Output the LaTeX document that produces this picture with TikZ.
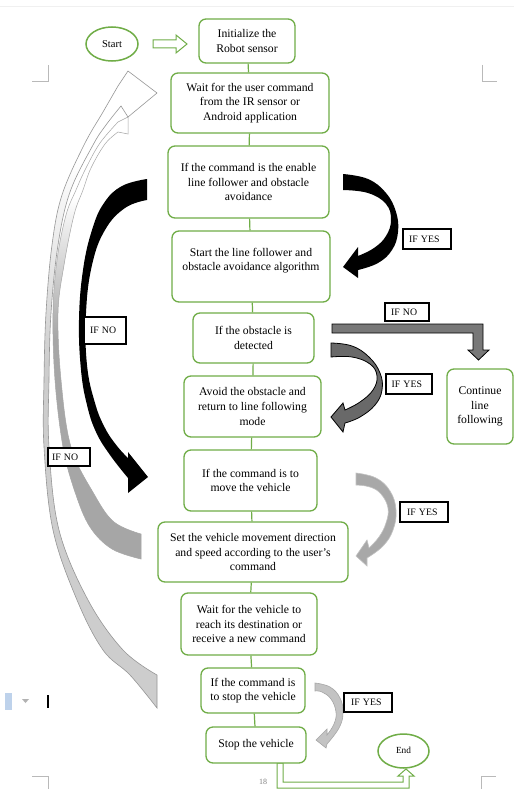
\documentclass[tikz,border=0pt]{standalone}
\usepackage{fontspec}
\setmainfont{Liberation Serif}
\usetikzlibrary{shapes.geometric}
\definecolor{wgreen}{RGB}{112,173,71}
\definecolor{shA}{RGB}{205,205,205}
\definecolor{shB}{RGB}{166,166,166}
\definecolor{edgeA}{RGB}{150,150,150}
\definecolor{dgray}{RGB}{105,105,105}
\definecolor{elbow}{RGB}{120,120,120}
\definecolor{lgrayA}{RGB}{168,168,168}
\definecolor{lgrayB}{RGB}{195,195,195}
\definecolor{iconblue}{RGB}{190,210,235}
\pgfdeclareverticalshading{fadeA}{100bp}{color(0bp)=(shA); color(25bp)=(shA); color(52bp)=(shA); color(68bp)=(white); color(100bp)=(white)}
\pgfdeclareverticalshading{fadeB}{100bp}{color(0bp)=(shB); color(25bp)=(shB); color(50bp)=(shB); color(66bp)=(white); color(100bp)=(white)}
\begin{document}
\begin{tikzpicture}[x=1pt,y=-1pt,
  box/.style={draw=wgreen, line width=1.3pt, rounded corners=7pt, fill=white, align=center, inner sep=0pt, font=\fontsize{11.7}{14.6}\selectfont},
  oval/.style={ellipse, draw=wgreen, line width=1.5pt, fill=white, inner sep=0pt},
  tag/.style={draw=black, line width=1.3pt, fill=white, inner ysep=0pt, inner xsep=6pt, align=left, font=\fontsize{9.8}{11}\selectfont},
  link/.style={draw=wgreen, line width=1.2pt},
  hollow/.style={draw=wgreen, fill=white, line width=1pt},
  crop/.style={draw=gray!55, line width=0.6pt}]
\useasboundingbox (0,0) rectangle (514,789);
\fill[white] (0,0) rectangle (514,789);
\draw[gray!12, line width=0.8pt] (0,6) -- (514,6);
% crop marks
\draw[crop] (32,81) -- (48,81) -- (48,65);
\draw[crop] (482,65) -- (482,81) -- (497,81);
\draw[crop] (32,776) -- (48,776) -- (48,789);
\draw[crop] (481,789) -- (481,776) -- (496,776);
\node[font=\fontsize{8}{9}\selectfont, text=gray] (pg) at (263,782) {18};
% editor artefacts
\fill[iconblue] (5,693) rectangle (12,710);
\fill[gray!60] (22,699) -- (29,699) -- (25.5,703) -- cycle;
\fill[black] (47.3,695) rectangle (48.8,708);

% big gray arrow B (from Set box back to Wait)
\path[shading=fadeB, draw=shB, line width=0.5pt]
  plot[smooth, tension=0.6] coordinates {(141,559) (112,549) (90,527) (75,492) (63,447) (55,380) (53,313) (57,260) (66,215) (76,190) (86,168) (100,143) (118,122)}
  -- (128,117) -- (128,134) -- (118,132)
  -- plot[smooth, tension=0.6] coordinates {(118,132) (105,144) (91,168) (83,190) (74,215) (64,265) (58,313) (61,380) (71,447) (94,494) (114,522) (141,534)}
  -- cycle;
% big light gray arrow A (from stop-command box back to Wait)
\path[shading=fadeA, draw=edgeA, line width=0.6pt]
  plot[smooth, tension=0.6] coordinates {(157,708) (130,675) (103,650) (77,600) (53,530) (44,447) (44,380) (46,313) (52,245) (62,195) (84,145) (103,112) (118,86)}
  -- (128,71) -- (157,93) -- (128,117) -- (121,106)
  -- plot[smooth, tension=0.6] coordinates {(121,106) (106,125) (93,145) (70,192) (58,245) (51,313) (49,380) (49,447) (59,530) (88,600) (123,650) (157,675)}
  -- cycle;

% black arrow left (IF NO)
\fill[black]
  plot[smooth, tension=0.7] coordinates {(147,179) (122,186) (104,203) (92,230) (83,270) (79,320) (81,370) (87,405) (96,432) (110,455) (128,478)}
  -- (128,493) -- (148,477) -- (128,452) -- (128,458)
  -- plot[smooth, tension=0.7] coordinates {(128,458) (117,446) (105,428) (95,403) (87,365) (86,313) (92,265) (105,230) (125,208) (147,200)}
  -- cycle;
% black arrow right (IF YES)
\fill[black]
  plot[smooth, tension=0.7] coordinates {(343,174) (368,179) (386,193) (396,212) (398,232) (392,250) (378,263) (358,270)}
  -- (358,278) -- (343,267) -- (358,247) -- (358,256)
  -- plot[smooth, tension=0.7] coordinates {(358,256) (374,248) (386,236) (391,220) (386,204) (368,193) (343,190)}
  -- cycle;
% dark gray arrow (obstacle -> avoid)
\filldraw[fill=dgray, draw=black, line width=0.8pt]
  plot[smooth, tension=0.7] coordinates {(331,343) (352,346) (369,357) (380,373) (382,390) (375,405) (360,417) (345,423)}
  -- (343,432) -- (331,417) -- (343,403) -- (345,410)
  -- plot[smooth, tension=0.7] coordinates {(345,410) (360,402) (373,390) (377,376) (370,364) (352,357) (331,357)}
  -- cycle;
% elbow arrow (IF NO -> continue)
\filldraw[fill=elbow, draw=black, line width=0.8pt] (332,324) -- (483,324) -- (483,350) -- (489,350) -- (478.5,360) -- (468,350) -- (473,350) -- (473,333) -- (332,333) -- cycle;
% light gray arrow (move -> set)
\filldraw[fill=lgrayA, draw=lgrayA!70!white, line width=0.6pt]
  plot[smooth, tension=0.7] coordinates {(356,473) (376,478) (390,491) (396,510) (393,530) (383,546) (367,558)}
  -- (367,566) -- (356,556) -- (367,540) -- (369,548)
  -- plot[smooth, tension=0.7] coordinates {(369,548) (379,537) (386,523) (388,508) (381,494) (370,487) (356,485)}
  -- cycle;
% light gray arrow (stop command -> stop vehicle)
\filldraw[fill=lgrayB, draw=gray!70, line width=0.6pt]
  plot[smooth, tension=0.7] coordinates {(315,683) (330,687) (340,698) (343,713) (339,728) (327,744)}
  -- (326,748) -- (316,740) -- (327,729) -- (327,735)
  -- plot[smooth, tension=0.7] coordinates {(327,735) (334,724) (336,712) (331,699) (322,692) (315,691)}
  -- cycle;
% green hollow arrows
\filldraw[hollow] (153,40) -- (176,40) -- (176,35) -- (187,44) -- (176,53) -- (176,48) -- (153,48) -- cycle;
\filldraw[hollow] (277,763) -- (277,788) -- (409,788) -- (409,776) -- (414,776) -- (406,769) -- (398,776) -- (403,776) -- (403,782) -- (283,782) -- (283,763) -- cycle;

% nodes
\node[oval, minimum width=52pt, minimum height=34pt, font=\fontsize{10.5}{12}\selectfont] (start) at (112,44) {Start};
\node[box, minimum width=96pt, minimum height=44pt] (init) at (247,41) {Initialize the\\Robot sensor};
\node[box, minimum width=158pt, minimum height=60pt] (wait) at (250,103) {Wait for the user command\\from the IR sensor or\\Android application};
\node[box, minimum width=161pt, minimum height=72pt] (ifcmd) at (248.5,182) {If the command is the enable\\line follower and obstacle\\avoidance};
\node[box, minimum width=158pt, minimum height=71pt] (startlf) at (251,266.5) {Start the line follower and\\obstacle avoidance algorithm\\\mbox{}};
\node[box, minimum width=121pt, minimum height=50pt] (obst) at (253.5,338) {If the obstacle is\\detected};
\node[box, minimum width=137pt, minimum height=61pt] (avoid) at (252.5,406.5) {Avoid the obstacle and\\return to line following\\mode};
\node[box, minimum width=66pt, minimum height=75pt] (cont) at (480,406.5) {Continue\\line\\following};
\node[box, minimum width=133pt, minimum height=61pt] (move) at (250.5,480.5) {If the command is to\\move the vehicle};
\node[box, minimum width=190pt, minimum height=60pt] (setv) at (253,552) {Set the vehicle movement direction\\and speed according to the user’s\\command};
\node[box, minimum width=136pt, minimum height=62pt] (waitv) at (249,624) {Wait for the vehicle to\\reach its destination or\\receive a new command};
\node[box, minimum width=104pt, minimum height=45pt] (stopcmd) at (253,690.5) {If the command is\\to stop the vehicle};
\node[box, minimum width=100pt, minimum height=36pt] (stopv) at (256,745) {Stop the vehicle};
\node[oval, minimum width=51pt, minimum height=34pt, font=\fontsize{9.3}{11}\selectfont] (end) at (403.5,751) {\raisebox{2pt}{End}};

% connectors
\draw[link] (init) -- (wait);
\draw[link] (wait) -- (ifcmd);
\draw[link] (ifcmd) -- (startlf);
\draw[link] (startlf) -- (obst);
\draw[link] (obst) -- (avoid);
\draw[link] (avoid) -- (move);
\draw[link] (move) -- (setv);
\draw[link] (setv) -- (waitv);
\draw[link] (waitv) -- (stopcmd);
\draw[link] (stopcmd) -- (stopv);

% labels
\node[tag, minimum width=48pt, minimum height=20pt, text width=36pt] (l1) at (427,239) {IF YES};
\node[tag, minimum width=44pt, minimum height=18pt, text width=32pt] (l2) at (407,312) {IF NO};
\node[tag, minimum width=42pt, minimum height=27pt, text width=30pt] (l3) at (105,330.5) {IF NO};
\node[tag, minimum width=46pt, minimum height=20pt, text width=35pt, inner xsep=5.5pt] (l4) at (409,384) {IF YES};
\node[tag, minimum width=42pt, minimum height=18pt, text width=34pt, inner xsep=4pt] (l5) at (69,457) {IF NO};
\node[tag, minimum width=48pt, minimum height=20pt, text width=34pt, inner xsep=7pt] (l6) at (424,512) {IF YES};
\node[tag, minimum width=48pt, minimum height=19pt, text width=34pt, inner xsep=7pt] (l7) at (368,702.5) {IF YES};
\end{tikzpicture}
\end{document}
